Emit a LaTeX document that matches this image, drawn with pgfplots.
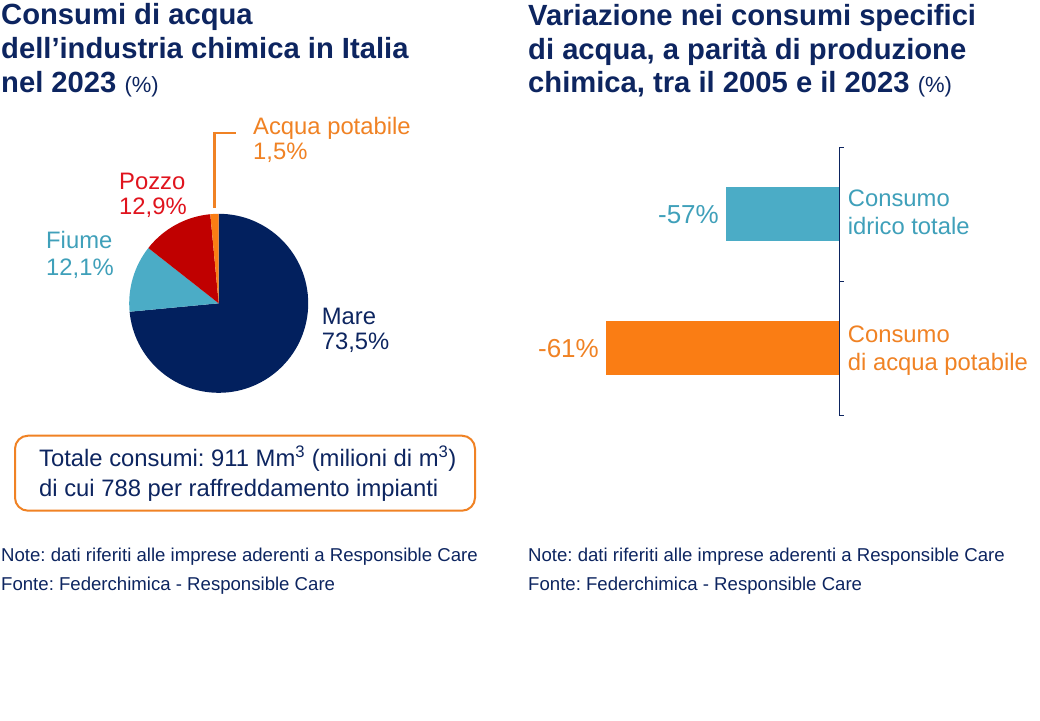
\documentclass[border=0pt]{standalone}
\usepackage{pgfplots}
\pgfplotsset{compat=1.18}
\usepackage{fontspec}
\setmainfont{Liberation Sans}
\frenchspacing
\definecolor{cnavy}{HTML}{0D2560}
\definecolor{cmare}{HTML}{02205E}
\definecolor{cteal}{HTML}{4BACC6}
\definecolor{ctealtxt}{HTML}{3FA0BA}
\definecolor{cpozzo}{HTML}{C00000}
\definecolor{cpozzotxt}{HTML}{E0141E}
\definecolor{corange}{HTML}{FA7D14}
\definecolor{corangetxt}{HTML}{F08224}
\begin{document}
\begin{tikzpicture}
\path[use as bounding box] (0,0) rectangle (1040pt,-720pt);
\fill[white] (0,0) rectangle (1040pt,-720pt);
\tikzset{
  ttl/.style={anchor=base west, inner sep=0pt, text=cnavy, font=\fontsize{29.2}{34}\selectfont\bfseries},
  lab/.style={anchor=base west, inner sep=0pt, font=\fontsize{23.8}{27}\selectfont},
  note/.style={anchor=base west, inner sep=0pt, text=cnavy, font=\fontsize{18.6}{22}\selectfont},
}
% ---- titles
\node[ttl] at (1pt,-24pt) {Consumi di acqua};
\node[ttl] at (1pt,-58.2pt) {dell’industria chimica in Italia};
\node[ttl] at (1pt,-92.4pt) {nel 2023 {\fontsize{22}{26}\selectfont\mdseries (\%)}};
\node[ttl] at (528pt,-25pt) {Variazione nei consumi specifici};
\node[ttl] at (528pt,-59pt) {di acqua, a parità di produzione};
\node[ttl] at (528pt,-92.6pt) {chimica, tra il 2005 e il 2023 {\fontsize{22}{26}\selectfont\mdseries (\%)}};
% ---- pie data (shares, %)
\def\sMare{73.5}\def\sFiume{12.1}\def\sPozzo{12.9}\def\sAcqua{1.5}
\pgfmathsetmacro{\aA}{90-3.6*\sMare}
\pgfmathsetmacro{\aB}{\aA-3.6*\sFiume}
\pgfmathsetmacro{\aC}{\aB-3.6*\sPozzo}
\pgfmathsetmacro{\aD}{\aC-3.6*\sAcqua}
\begin{axis}[at={(218.7pt,-303.3pt)}, anchor=center, hide axis, x=89.5pt, y=89.5pt,
  xmin=-1, xmax=1, ymin=-1, ymax=1, clip=false]
\fill[cmare] (axis cs:0,0) -- (axis cs:{cos(90)},{sin(90)}) arc[start angle=90, end angle=\aA, radius=89.5pt] -- cycle;
\fill[cteal] (axis cs:0,0) -- (axis cs:{cos(\aA)},{sin(\aA)}) arc[start angle=\aA, end angle=\aB, radius=89.5pt] -- cycle;
\fill[cpozzo] (axis cs:0,0) -- (axis cs:{cos(\aB)},{sin(\aB)}) arc[start angle=\aB, end angle=\aC, radius=89.5pt] -- cycle;
\fill[corange] (axis cs:0,0) -- (axis cs:{cos(\aC)},{sin(\aC)}) arc[start angle=\aC, end angle=\aD, radius=89.5pt] -- cycle;
\end{axis}
% leader line
\draw[corangetxt, line width=2.5pt] (214.3pt,-208pt) -- (214.3pt,-133pt) -- (236pt,-133pt);
% pie labels
\node[lab, text=corangetxt] at (253pt,-134pt) {Acqua potabile};
\node[lab, text=corangetxt] at (253pt,-159.3pt) {1,5\%};
\node[lab, text=cpozzotxt] at (119pt,-189pt) {Pozzo};
\node[lab, text=cpozzotxt] at (119pt,-214pt) {12,9\%};
\node[lab, text=ctealtxt] at (46pt,-248.3pt) {Fiume};
\node[lab, text=ctealtxt] at (46pt,-275pt) {12,1\%};
\node[lab, text=cnavy] at (321.7pt,-324.3pt) {Mare};
\node[lab, text=cnavy] at (321.7pt,-349.3pt) {73,5\%};
% box
\draw[corangetxt, line width=2pt, rounded corners=13pt] (15pt,-435.7pt) rectangle (475pt,-510.7pt);
\node[lab, text=cnavy] at (39pt,-466.7pt) {Totale consumi: 911 Mm\textsuperscript{3} (milioni di m\textsuperscript{3})};
\node[lab, text=cnavy] at (39pt,-496.7pt) {di cui 788 per raffreddamento impianti};
% notes
\node[note] at (1pt,-561.7pt) {Note: dati riferiti alle imprese aderenti a Responsible Care};
\node[note] at (1pt,-590pt) {Fonte: Federchimica - Responsible Care};
\node[note] at (528pt,-561.7pt) {Note: dati riferiti alle imprese aderenti a Responsible Care};
\node[note] at (528pt,-590pt) {Fonte: Federchimica - Responsible Care};
% ---- bar chart
\begin{axis}[at={(839pt,-147.3pt)}, anchor=north east, scale only axis,
  width=340pt, height=267.7pt,
  xmin=-64.567, xmax=-53.233, ymin=-0.5, ymax=1.5, y dir=reverse,
  axis x line=none, axis y line*=right,
  y axis line style={-, draw=cnavy, line width=1pt},
  ytick={-0.5,0.5,1.5}, yticklabels={}, tick align=outside,
  major tick length=4.5pt, tick style={draw=cnavy, line width=1pt},
  xbar, bar shift=0pt, bar width=54.5pt,
  point meta=x,
  nodes near coords={\pgfmathprintnumber[assume math mode=true]{\pgfplotspointmeta}\%},
  every node near coord/.append style={anchor=base east, xshift=-7pt, yshift=-9pt, inner sep=0pt, font=\fontsize{26}{30}\selectfont},
]
\addplot[draw=none, fill=cteal, bar shift=0pt, every node near coord/.append style={text=ctealtxt}] coordinates {(-57,0)};
\addplot[draw=none, fill=corange, bar shift=0pt, every node near coord/.append style={text=corangetxt}] coordinates {(-61,1)};
\end{axis}
\node[lab, text=ctealtxt] at (847.7pt,-206pt) {Consumo};
\node[lab, text=ctealtxt] at (847.7pt,-234.3pt) {idrico totale};
\node[lab, text=corangetxt] at (847.7pt,-342pt) {Consumo};
\node[lab, text=corangetxt] at (847.7pt,-370pt) {di acqua potabile};
\end{tikzpicture}
\end{document}
